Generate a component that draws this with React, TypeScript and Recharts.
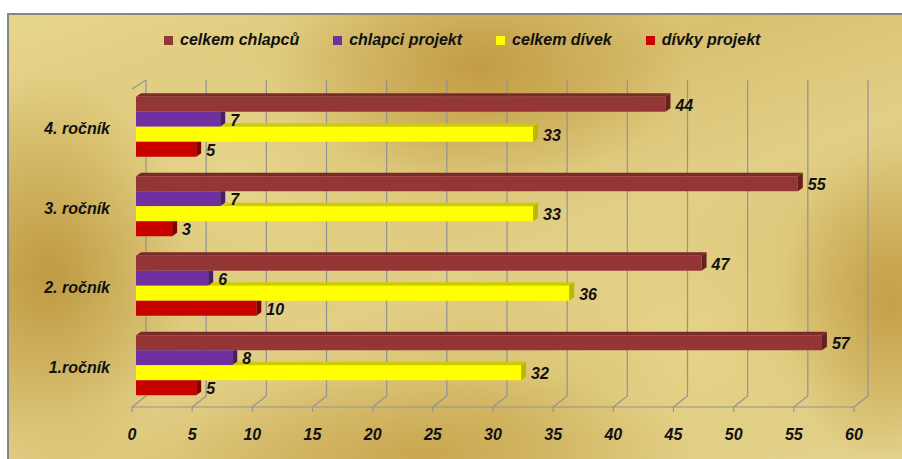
import React from 'react';
import { BarChart, Bar, XAxis, YAxis, CartesianGrid, Legend, LabelList } from 'recharts';

const categories = ['4. ročník', '3. ročník', '2. ročník', '1.ročník'];
const celkemChlapcu = [44, 55, 47, 57];
const chlapciProjekt = [7, 7, 6, 8];
const celkemDivek = [33, 33, 36, 32];
const divkyProjekt = [5, 3, 10, 5];
const xTicks = [0, 5, 10, 15, 20, 25, 30, 35, 40, 45, 50, 55, 60];
const edgeTicks = [0, 1, 2, 3, 4];
const seriesNames = ['celkem chlapců', 'chlapci projekt', 'celkem dívek', 'dívky projekt'];
const seriesKeys = ['cc', 'cp', 'cd', 'dp'];

const data = categories.map((c, i) => ({
  name: c,
  cc: celkemChlapcu[i],
  cp: chlapciProjekt[i],
  cd: celkemDivek[i],
  dp: divkyProjekt[i],
}));

const palette = [
  { front: '#953636', top: '#7a2a29', side: '#6a1f1f' },
  { front: '#7030a0', top: '#5a2586', side: '#4a1c6e' },
  { front: '#ffff00', top: '#cccc00', side: '#bcb800' },
  { front: '#c80000', top: '#9c0000', side: '#860000' },
];

const FONT = "'Liberation Sans', Arial, sans-serif";
const DX = 4;
const DY = -3;
const PX = 5;
const PY = -3.5;
const GRID = '#939393';

function makeShape(idx: number) {
  return (props: any) => {
    const { x, y, width, height, payload } = props;
    if (!width || width <= 0) return <g />;
    const c = palette[idx];
    const X = x + DX;
    const Y = y + DY;
    const value = payload[seriesKeys[idx]];
    const ppu = value ? width / value : 0;
    let topStart = X;
    let sideHidden = false;
    if (idx > 0) {
      const prevEnd = X + payload[seriesKeys[idx - 1]] * ppu;
      topStart = Math.min(prevEnd, X + width);
      sideHidden = prevEnd > X + width;
    }
    const R = X + width;
    const side = sideHidden
      ? `${R},${Y} ${R + PX},${Y} ${R + PX},${Y + height + PY} ${R},${Y + height}`
      : `${R},${Y} ${R + PX},${Y + PY} ${R + PX},${Y + height + PY} ${R},${Y + height}`;
    return (
      <g>
        {topStart < R && (
          <polygon
            points={`${topStart},${Y} ${R},${Y} ${R + PX},${Y + PY} ${topStart + PX},${Y + PY}`}
            fill={c.top}
          />
        )}
        <rect x={X} y={Y} width={width} height={height} fill={c.front} />
        <polygon points={side} fill={c.side} />
      </g>
    );
  };
}

const renderValue = (props: any) => {
  const { x, y, width, height, value } = props;
  return (
    <text
      x={x + width + DX + PX + 5}
      y={y + height / 2 + DY + 1}
      dominantBaseline="central"
      fontFamily={FONT}
      fontSize={16}
      fontWeight="bold"
      fontStyle="italic"
      fill="#111"
    >
      {value}
    </text>
  );
};

const renderGridLine = (props: any) => {
  const { x1, y1, y2, index } = props;
  const bx = x1 + 14;
  return (
    <g key={`g-${index}-${x1}`}>
      <path d={`M${x1},${y2} L${bx},${y2 - 11} L${bx},${y1 - 9}`} stroke={GRID} strokeWidth={1.2} fill="none" />
      {index === 0 && (
        <path d={`M${x1},${y1} L${bx},${y1 - 9}`} stroke={GRID} strokeWidth={1.2} fill="none" />
      )}
    </g>
  );
};

const renderLegend = () => (
  <div
    style={{
      display: 'flex',
      alignItems: 'center',
      paddingLeft: 164,
      fontFamily: FONT,
      fontSize: 16,
      fontWeight: 'bold',
      fontStyle: 'italic',
      color: '#111',
      lineHeight: '20px',
    }}
  >
    {seriesNames.map((n, i) => (
      <div key={n} style={{ display: 'flex', alignItems: 'center', marginRight: 34 }}>
        <span style={{ display: 'inline-block', width: 9, height: 9, background: palette[i].front, marginRight: 7 }} />
        <span>{n}</span>
      </div>
    ))}
  </div>
);

const bg = [
  'radial-gradient(ellipse 210px 120px at 470px 50px, rgba(188,146,55,0.8), rgba(188,146,55,0) 100%)',
  'radial-gradient(ellipse 140px 200px at 40px 260px, rgba(183,142,50,0.75), rgba(183,142,50,0) 100%)',
  'radial-gradient(ellipse 110px 160px at 880px 290px, rgba(188,146,55,0.7), rgba(188,146,55,0) 100%)',
  'radial-gradient(ellipse 260px 90px at 420px 440px, rgba(193,152,60,0.6), rgba(193,152,60,0) 100%)',
  'radial-gradient(ellipse 220px 140px at 230px 170px, rgba(236,222,150,0.7), rgba(236,222,150,0) 100%)',
  'radial-gradient(ellipse 220px 160px at 680px 330px, rgba(236,222,150,0.7), rgba(236,222,150,0) 100%)',
  'linear-gradient(160deg, #e6d68c 0%, #d8c070 35%, #e2cf86 55%, #d6bd6c 75%, #e4d48e 100%)',
].join(', ');

export default function App() {
  return (
    <div style={{ position: 'absolute', left: 0, top: 0, width: 902, height: 459, background: '#fff', overflow: 'hidden' }}>
      <div
        style={{
          position: 'absolute',
          left: 7,
          top: 13,
          width: 895,
          height: 446,
          boxSizing: 'border-box',
          borderLeft: '2px solid #858585',
          borderTop: '2px solid #858585',
          background: bg,
        }}
      />
      <div style={{ position: 'absolute', left: 0, top: 0 }}>
        <BarChart
          width={902}
          height={459}
          data={data}
          layout="vertical"
          margin={{ top: 89, right: 48, bottom: 12, left: 0 }}
          barCategoryGap="13.5%"
          barGap={0}
        >
          <CartesianGrid horizontal={false} vertical={renderGridLine} />
          <YAxis
            yAxisId="edge"
            type="number"
            domain={[0, 4]}
            ticks={edgeTicks}
            tick={false}
            width={0}
            tickSize={5}
            axisLine={{ stroke: GRID, strokeWidth: 1.2 }}
            tickLine={{ stroke: GRID, strokeWidth: 1.2 }}
            allowDataOverflow
          />
          <YAxis
            yAxisId="cat"
            type="category"
            dataKey="name"
            width={132}
            axisLine={false}
            tickLine={false}
            tickSize={0}
            tickMargin={22}
            tick={{ fill: '#111', fontFamily: FONT, fontSize: 16, fontWeight: 'bold', fontStyle: 'italic' }}
          />
          <XAxis
            type="number"
            domain={[0, 60]}
            ticks={xTicks}
            height={40}
            tickSize={5}
            tickMargin={17}
            axisLine={{ stroke: GRID, strokeWidth: 1.2 }}
            tickLine={{ stroke: GRID, strokeWidth: 1.2 }}
            tick={{ fill: '#111', fontFamily: FONT, fontSize: 16, fontWeight: 'bold', fontStyle: 'italic' }}
            allowDataOverflow
          />
          <Legend
            layout="horizontal"
            align="center"
            verticalAlign="middle"
            wrapperStyle={{ top: 30, left: 0, width: 902 }}
            content={renderLegend}
          />
          {seriesKeys.map((k, i) => (
            <Bar
              key={k}
              yAxisId="cat"
              dataKey={k}
              name={seriesNames[i]}
              fill={palette[i].front}
              shape={makeShape(i)}
              isAnimationActive={false}
            >
              <LabelList dataKey={k} content={renderValue} />
            </Bar>
          ))}
        </BarChart>
      </div>
    </div>
  );
}
